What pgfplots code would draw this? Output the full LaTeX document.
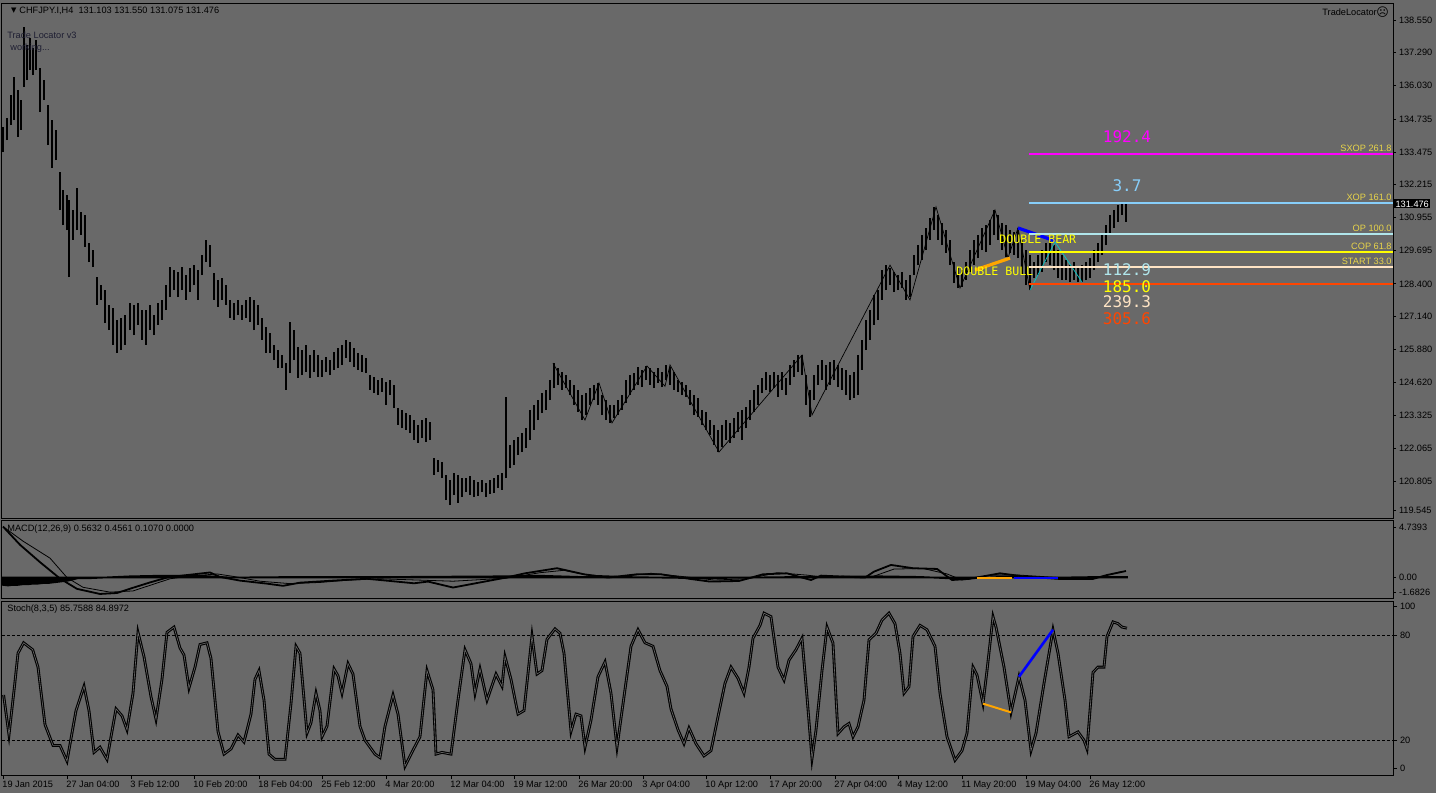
\documentclass[border=0pt]{standalone}
\usepackage{pgfplots}
\pgfplotsset{compat=1.18}
\usepackage{pgfplotstable}
\usepackage{fontspec}
\setmainfont{Liberation Sans}
\newfontfamily\dejavu{DejaVu Sans}
\newfontfamily\mono{DejaVu Sans Mono}
\definecolor{bg}{HTML}{696969}
\definecolor{lvlgold}{RGB}{232,212,74}
\definecolor{mag}{RGB}{255,0,255}
\definecolor{skyb}{HTML}{87CEFA}
\definecolor{paleb}{HTML}{B0E6EC}
\definecolor{bisq}{HTML}{FFE4C4}
\definecolor{ored}{HTML}{FF4500}
\definecolor{orng}{HTML}{FFA500}
\definecolor{zcyan}{HTML}{00C8C8}
\definecolor{blu}{RGB}{0,0,255}
\definecolor{yel}{RGB}{255,255,0}
\newcommand{\fs}{\fontsize{4.6}{5.5}\selectfont}

\pgfplotstableread{
x hi lo
3 134.43 133.47
7 134.78 133.93
11 135.66 134.51
14 136.36 134.70
18 135.86 134.05
21 135.47 134.32
24 138.28 135.97
27 137.59 136.24
30 137.86 136.63
33 137.47 136.43
36 137.78 136.63
40 136.70 135.01
44 136.24 135.47
48 135.28 133.74
52 134.70 132.86
56 134.32 133.16
60 132.70 131.24
63 132.01 130.66
67 131.82 130.47
69 131.63 128.66
73 131.24 130.09
77 132.09 130.47
81 131.16 130.28
85 131.05 129.82
89 129.97 129.24
93 129.70 129.05
97 128.66 127.59
101 128.35 127.78
105 128.16 126.89
109 127.59 126.62
113 127.47 126.05
117 127.01 125.74
121 127.09 125.85
125 127.20 126.05
130 127.67 126.62
134 127.59 126.43
138 127.67 126.82
142 127.39 126.24
146 127.39 126.05
150 127.59 126.62
154 127.20 126.43
158 127.67 126.82
162 127.78 127.01
166 128.35 127.39
170 129.05 127.89
174 128.93 128.16
178 128.85 127.89
182 129.05 128.16
186 128.74 127.78
190 129.00 128.08
194 129.12 128.35
198 128.93 127.78
202 129.51 128.74
206 130.09 129.24
210 129.89 129.05
214 128.82 127.78
218 128.55 127.51
222 128.62 127.78
226 128.35 127.59
230 127.78 127.09
234 127.67 127.01
238 127.78 127.20
242 127.59 127.01
246 127.78 127.09
250 127.89 126.93
254 127.78 126.62
258 127.59 126.82
262 127.09 126.24
266 126.74 125.74
270 126.50 125.74
274 126.05 125.47
278 125.85 125.16
282 125.66 125.16
286 125.35 124.32
290 126.93 124.97
294 126.62 125.47
298 125.97 124.78
302 125.85 124.89
306 126.05 125.01
310 125.66 124.78
314 125.85 125.01
318 125.66 124.82
322 125.47 124.82
326 125.59 125.01
330 125.47 124.89
334 125.78 125.09
338 125.93 125.16
342 126.05 125.28
346 126.24 125.55
350 126.16 125.39
354 125.93 125.20
358 125.74 125.09
362 125.66 125.01
366 125.55 124.97
370 124.89 124.32
374 124.82 124.20
378 124.70 124.12
382 124.78 124.24
386 124.62 123.74
390 124.70 124.12
394 124.51 123.62
398 123.62 122.97
402 123.55 122.85
406 123.43 122.78
410 123.35 122.66
414 123.16 122.39
418 122.97 122.28
422 123.16 122.47
426 123.24 122.32
430 123.09 122.39
434 121.70 121.05
438 121.62 121.16
442 121.55 120.93
446 121.05 120.08
450 120.85 119.89
454 121.12 120.28
458 121.05 119.97
462 120.93 120.20
466 120.93 120.39
470 121.01 120.28
474 120.85 120.20
478 120.78 120.24
482 120.85 120.39
486 120.74 120.20
490 120.85 120.32
494 120.93 120.35
498 121.05 120.55
502 121.12 120.47
506 124.05 120.93
510 122.20 121.32
514 122.39 121.43
518 122.51 121.81
522 122.66 121.93
526 122.85 122.09
530 123.55 122.39
534 123.74 122.78
538 123.93 123.16
542 124.20 123.43
546 124.32 123.55
550 124.70 123.93
554 125.35 124.39
558 125.16 124.51
562 125.01 124.32
566 124.89 124.39
570 124.70 124.12
574 124.51 123.74
578 124.32 123.47
582 124.12 123.16
586 124.20 123.35
590 124.39 123.74
594 124.51 123.93
598 124.59 123.74
602 124.12 123.35
606 123.93 123.16
610 123.74 123.05
614 123.74 123.24
618 123.93 123.35
622 124.12 123.55
626 124.70 123.82
630 124.89 124.12
634 124.97 124.32
638 125.20 124.51
642 125.09 124.43
646 125.24 124.70
650 125.16 124.51
654 125.01 124.39
658 125.16 124.59
662 125.01 124.43
666 125.28 124.70
670 125.20 124.51
674 125.01 124.32
678 124.70 124.24
682 124.62 124.12
686 124.51 124.05
690 124.32 123.74
694 124.12 123.35
698 124.01 123.28
702 123.55 122.97
706 123.47 122.78
710 123.16 122.58
714 122.97 122.20
718 122.78 121.93
722 122.97 122.12
726 123.16 122.39
730 123.05 122.28
734 123.24 122.47
738 123.47 122.70
742 123.55 122.39
746 123.66 122.85
750 123.93 123.16
754 124.32 123.47
758 124.51 123.74
762 124.78 124.20
766 125.01 124.32
770 124.89 124.24
774 125.01 124.39
778 124.89 124.05
782 125.01 124.32
786 124.78 124.12
790 125.28 124.51
794 125.47 124.82
798 125.66 125.01
802 125.66 124.89
806 124.89 123.74
810 124.32 123.28
814 124.89 123.93
818 125.28 124.51
822 125.47 124.70
826 125.28 124.32
830 125.39 124.51
834 125.47 124.70
838 125.28 124.43
842 125.16 124.32
846 125.09 124.12
850 124.89 123.93
854 125.01 124.01
858 125.66 124.12
862 126.24 125.09
866 127.01 125.85
870 127.39 126.24
874 127.97 126.82
878 128.16 127.01
882 128.93 127.78
886 129.12 128.16
890 129.00 128.35
894 128.85 128.08
898 128.74 128.16
902 128.85 128.24
906 128.55 127.78
910 128.74 127.89
914 129.51 128.74
918 129.89 129.12
922 130.28 129.32
926 130.55 129.70
930 130.93 130.09
934 131.36 130.47
938 131.05 130.09
942 130.74 129.89
946 130.47 129.59
950 130.09 129.12
954 129.24 128.43
958 129.00 128.24
962 128.93 128.28
966 129.24 128.55
970 129.70 128.85
974 130.09 129.12
978 130.28 129.39
982 130.55 129.70
986 130.66 129.62
990 130.86 129.89
994 131.24 130.28
998 131.05 130.09
1002 130.74 129.70
1006 130.66 129.43
1010 130.47 129.59
1014 130.39 129.51
1018 130.55 129.39
1022 130.09 128.74
1026 129.70 128.35
1030 129.51 128.16
1034 129.24 128.62
1038 129.51 128.74
1042 129.70 128.85
1046 129.97 129.24
1050 130.09 129.12
1054 129.89 128.93
1058 129.70 128.62
1062 129.51 128.55
1066 129.32 128.55
1070 129.12 128.47
1074 129.24 128.55
1078 129.00 128.47
1082 129.12 128.47
1086 129.24 128.55
1090 129.39 128.62
1094 129.70 128.93
1098 129.97 129.24
1102 130.28 129.51
1106 130.66 129.89
1110 131.05 130.28
1114 131.24 130.55
1118 131.43 130.78
1122 131.51 131.05
1126 131.51 130.78
}\price

\pgfplotsset{panel/.style={
  scale only axis, width=695.5pt, xmin=2, xmax=1393,
  axis line style={black, line width=0.5pt},
  xtick=\empty, ytick pos=right, yticklabel pos=right,
  tick align=outside, major tick length=1.5pt,
  tick style={black, line width=0.4pt},
  yticklabel style={font=\fs, text=black, anchor=west, inner sep=0pt, xshift=1.3pt},
  clip mode=individual, anchor=north west}}

\begin{document}
\begin{tikzpicture}
\fill[bg] (0pt,0pt) rectangle (718pt,-396.5pt);
\useasboundingbox (0pt,0pt) rectangle (718pt,-396.5pt);

% ---------- main price panel ----------
\begin{axis}[panel, at={(1pt,-1.5pt)}, height=257.5pt,
  ymin=119.392, ymax=139.204,
  ytick={138.550,137.290,136.030,134.735,133.475,132.215,130.955,129.695,128.400,127.140,125.880,124.620,123.325,122.065,120.805,119.70},
  yticklabels={138.550,137.290,136.030,134.735,133.475,132.215,130.955,129.695,128.400,127.140,125.880,124.620,123.325,122.065,120.805,119.545}]
\addplot[draw=none, mark=none, error bars/.cd, y dir=plus, y explicit, error mark=none,
  error bar style={draw=black, line width=0.55pt}]
  table[x=x, y=lo, y error expr=\thisrow{hi}-\thisrow{lo}] {\price};
% zigzag
\addplot[black, line width=0.35pt] coordinates {(553,125.35) (585,123.16) (599,124.59) (612,123.05) (647,125.24) (665,124.46) (670,125.28) (697,123.43) (719,121.93) (802,125.66) (812,123.35) (890,129.12) (910,127.78) (936,131.36) (960,128.24) (995,131.24) (1008,129.40) (1018,130.55) (1030,128.16)};
\addplot[zcyan, line width=0.35pt] coordinates {(1030,128.16) (1055,130.01) (1082,128.47)};
\addplot[blu, line width=1.6pt] coordinates {(1018,130.55) (1055,130.05)};
\addplot[orng, line width=1.6pt] coordinates {(975,128.93) (1010,129.39)};
% levels
\addplot[mag, line width=1pt] coordinates {(1029,133.40) (1393,133.40)};
\addplot[skyb, line width=1pt] coordinates {(1029,131.51) (1393,131.51)};
\addplot[paleb, line width=1pt] coordinates {(1029,130.32) (1393,130.32)};
\addplot[yel, line width=1pt] coordinates {(1029,129.62) (1393,129.62)};
\addplot[bisq, line width=1pt] coordinates {(1029,129.05) (1393,129.05)};
\addplot[ored, line width=1pt] coordinates {(1029,128.39) (1393,128.39)};
% level labels
\node[anchor=east, inner sep=0pt, text=lvlgold, font=\fs] at (axis cs:1392,133.63) {SXOP 261.8};
\node[anchor=east, inner sep=0pt, text=lvlgold, font=\fs] at (axis cs:1392,131.74) {XOP 161.0};
\node[anchor=east, inner sep=0pt, text=lvlgold, font=\fs] at (axis cs:1392,130.55) {OP 100.0};
\node[anchor=east, inner sep=0pt, text=lvlgold, font=\fs] at (axis cs:1392,129.85) {COP 61.8};
\node[anchor=east, inner sep=0pt, text=lvlgold, font=\fs] at (axis cs:1392,129.28) {START 33.0};
% big numbers
\node[inner sep=0pt, text=mag, font=\mono\fontsize{8}{9}\selectfont] at (axis cs:1127,134.05) {192.4};
\node[inner sep=0pt, text=skyb, font=\mono\fontsize{8}{9}\selectfont] at (axis cs:1127,132.16) {3.7};
\node[inner sep=0pt, text=paleb, font=\mono\fontsize{8}{9}\selectfont] at (axis cs:1127,128.93) {112.9};
\node[inner sep=0pt, text=yel, font=\mono\fontsize{8}{9}\selectfont] at (axis cs:1127,128.28) {185.0};
\node[inner sep=0pt, text=bisq, font=\mono\fontsize{8}{9}\selectfont] at (axis cs:1127,127.70) {239.3};
\node[inner sep=0pt, text=ored, font=\mono\fontsize{8}{9}\selectfont] at (axis cs:1127,127.05) {305.6};
\node[anchor=west, inner sep=0pt, text=yel, font=\mono\fontsize{5.8}{7}\selectfont] at (axis cs:999,130.12) {DOUBLE BEAR};
\node[anchor=west, inner sep=0pt, text=yel, font=\mono\fontsize{5.8}{7}\selectfont] at (axis cs:956,128.89) {DOUBLE BULL};
\node[anchor=west, inner sep=0.6pt, fill=black, text=white, font=\fs] at (axis cs:1394,131.476) {131.476};
\end{axis}

% ---------- MACD panel ----------
\begin{axis}[panel, at={(1pt,-260pt)}, height=39pt,
  ymin=-1.6826, ymax=4.7393,
  ytick={4.16,0,-1.19}, yticklabels={4.7393,0.00,-1.6826}]
\addplot[fill=black, draw=black, line width=0.9pt] coordinates {(3,-0.6) (8,-0.65) (13,-0.6) (18,-0.6) (23,-0.55) (28,-0.55) (33,-0.5) (38,-0.5) (43,-0.45) (48,-0.45) (53,-0.4) (58,-0.35) (63,-0.3) (68,-0.25) (73,-0.15) (78,-0.05) (90,-0.05) (130,0.1) (160,0.15) (200,0.15) (230,0) (300,0.05) (400,0.05) (500,0.1) (540,0.15) (580,0.05) (620,0.05) (700,-0.05) (800,0.05) (880,0.1) (920,0.05) (960,-0.1) (1000,0.05) (1060,0) (1100,0.05) (1127,0.05)} \closedcycle;
\addplot[black, line width=0.9pt] coordinates {(3,4.2) (20,2.7) (40,1.27) (60,-0.08) (77,-0.93) (100,-1.35) (117,-1.27) (133,-0.84) (150,-0.4) (167,0) (183,0.17) (210,0.42) (220,0.05) (240,-0.25) (267,-0.5) (283,-0.68) (300,-0.42) (333,-0.25) (367,-0.1) (380,-0.2) (414,-0.47) (428,-0.33) (453,-0.82) (506,0) (525,0.35) (557,0.77) (584,0.27) (608,0) (637,0.27) (661,0.27) (690,-0.11) (710,-0.33) (739,-0.28) (763,0.27) (787,0.35) (802,0) (811,-0.2) (821,0.16) (865,0) (874,0.49) (891,1.04) (913,0.77) (937,0.71) (952,-0.2) (969,-0.11) (1000,0.35) (1025,0.08) (1059,-0.11) (1093,-0.11) (1107,0.21) (1126,0.54)};
\addplot[black, line width=0.4pt] coordinates {(3,4.2) (23,3.0) (50,1.6) (67,0.0) (83,-0.8) (110,-1.2) (133,-1.1) (170,-0.1) (187,0.1) (217,0.3) (233,0.1) (260,-0.3) (290,-0.5) (320,-0.4) (350,-0.2) (380,-0.1) (453,-0.3) (506,-0.05) (540,0.4) (564,0.6) (588,0.2) (622,0.1) (651,0.35) (681,0.1) (714,-0.2) (748,-0.1) (777,0.4) (807,0.2) (826,0) (870,0) (894,0.7) (923,0.75) (947,0.3) (962,-0.2) (991,0.2) (1020,0.2) (1059,0) (1097,0) (1122,0.5)};
\addplot[orng, line width=1pt] coordinates {(977,-0.03) (1012,-0.03)};
\addplot[blu, line width=1.3pt] coordinates {(1014,-0.05) (1058,-0.05)};
\end{axis}

% ---------- Stochastic panel ----------
\begin{axis}[panel, at={(1pt,-300.5pt)}, height=87pt,
  ymin=0, ymax=100,
  ytick={3.8,20,80,96.7}, yticklabels={0,20,80,100},
  xtick pos=bottom, major tick length=2pt,
  xtick={3,67,131,194,259,322,386,451,514,579,643,706,770,835,898,962,1026,1090},
  xticklabels={19 Jan 2015,27 Jan 04:00,3 Feb 12:00,10 Feb 20:00,18 Feb 04:00,25 Feb 12:00,4 Mar 20:00,12 Mar 04:00,19 Mar 12:00,26 Mar 20:00,3 Apr 04:00,10 Apr 12:00,17 Apr 20:00,27 Apr 04:00,4 May 12:00,11 May 20:00,19 May 04:00,26 May 12:00},
  xticklabel style={font=\fs, text=black, anchor=north west, inner sep=0pt, xshift=-0.5pt, yshift=-0.8pt}]
\addplot[black, line width=0.4pt, dash pattern=on 1.5pt off 1pt] coordinates {(2,80) (1393,80)};
\addplot[black, line width=0.4pt, dash pattern=on 1.5pt off 1pt] coordinates {(2,20) (1393,20)};
\addplot[black, line width=0.55pt, double=bg, double distance=0.3pt] coordinates {
(3.6,46) (9,23) (14.5,51) (18,70) (23.6,76) (32.7,72) (38,62) (45,29) (53,17) (60,17) (67,8) (76,37) (84,51) (89,37) (94,13) (100,16) (107,9) (116,38) (122,34) (127,26) (133,47) (138,82) (144,68) (151,45) (156,32) (162,55) (167,82) (174,85) (180,73) (184,69) (189,50) (195,62) (200,75) (207,76) (211,67) (218,25) (224,12) (231,15) (238,23) (244,19) (251,35) (255,55) (259,60) (264,43) (269,12) (275,9) (285,9) (291,41) (296,74) (300,70) (307,24) (311,30) (316,47) (320,37) (322,22) (327,28) (334,61) (338,57) (342,47) (348,64) (353,58) (360,28) (365,20) (375,12) (380,10) (385,28) (393,46) (398,35) (405,5) (411,12) (420,22) (427,60) (433,49) (436,12) (442,13) (451,12) (458,43) (465,72) (471,64) (475,47) (480,61) (487,43) (496,58) (502,51) (505,68) (511,55) (518,35) (524,37) (527,53) (532,80) (537,58) (542,60) (547,78) (555,84) (560,81.5) (564,70) (571,25) (576,35) (581,34) (585,16) (591,31.5) (598,56.5) (605,65) (611,47) (617,16) (624,45) (631,74) (638,83.5) (645,76) (653,74) (660,60) (667,51) (671,38) (678,26) (684,18) (689,27) (696,18) (704,11) (711,14) (718,33.5) (725,52.7) (731,62) (738,55.6) (744,47) (749,62) (753,78.6) (760,86) (764,93) (771,91) (778,62) (784,54.6) (789,66) (796,72) (802,78.6) (807,45) (812,9.4) (816,25.8) (822,60) (827,85) (833,75.8) (838,23.8) (844,27.7) (849,29.6) (853,22) (858,27.7) (864,43) (869,77.7) (876,81.5) (882,89) (889,93) (895,87) (900,70) (904,47) (909,50.8) (913,79.6) (920,86) (927,83.5) (935,74) (940,47) (947,22) (955,8.5) (962,14) (967,24) (973,62) (977,57.5) (983,41) (987,60) (993,91) (996,85) (1004,62) (1011,36) (1019,56.5) (1025,43) (1031,14) (1036,24) (1044,52.7) (1053,83.5) (1058,70) (1065,43) (1069,22) (1078,24.8) (1084,20) (1087,15) (1093,59) (1098,62) (1104,62) (1107,79.6) (1113,88) (1118,87) (1122,85) (1127,84.4)};
\addplot[orng, line width=1pt] coordinates {(983,41) (1011,36)};
\addplot[blu, line width=1.3pt] coordinates {(1019,56.5) (1053,83.5)};
\end{axis}

% ---------- titles ----------
\node[anchor=west, inner sep=0pt, font=\dejavu\fontsize{3.5}{4}\selectfont] at (5.3pt,-5.4pt) {▼};
\node[anchor=west, inner sep=0pt, font=\fs, text=black] at (9.5pt,-5.25pt) {CHFJPY.I,H4\ \ 131.103 131.550 131.075 131.476};
\node[anchor=west, inner sep=0pt, font=\fs, text={rgb,255:red,30;green,30;blue,50}] at (3.5pt,-17.5pt) {Trade Locator v3};
\node[anchor=west, inner sep=0pt, font=\fs, text={rgb,255:red,30;green,30;blue,50}] at (5pt,-24pt) {working...};
\node[anchor=west, inner sep=0pt, font=\fs, text=black] at (661pt,-6pt) {TradeLocator};
\node[anchor=west, inner sep=0pt, font=\dejavu\fontsize{6}{7}\selectfont, text=black] at (688pt,-6pt) {☹};
\node[anchor=west, inner sep=0pt, font=\fs, text=black] at (3.5pt,-264.5pt) {MACD(12,26,9) 0.5632 0.4561 0.1070 0.0000};
\node[anchor=west, inner sep=0pt, font=\fs, text=black] at (3.5pt,-304.5pt) {Stoch(8,3,5) 85.7588 84.8972};
\end{tikzpicture}
\end{document}
